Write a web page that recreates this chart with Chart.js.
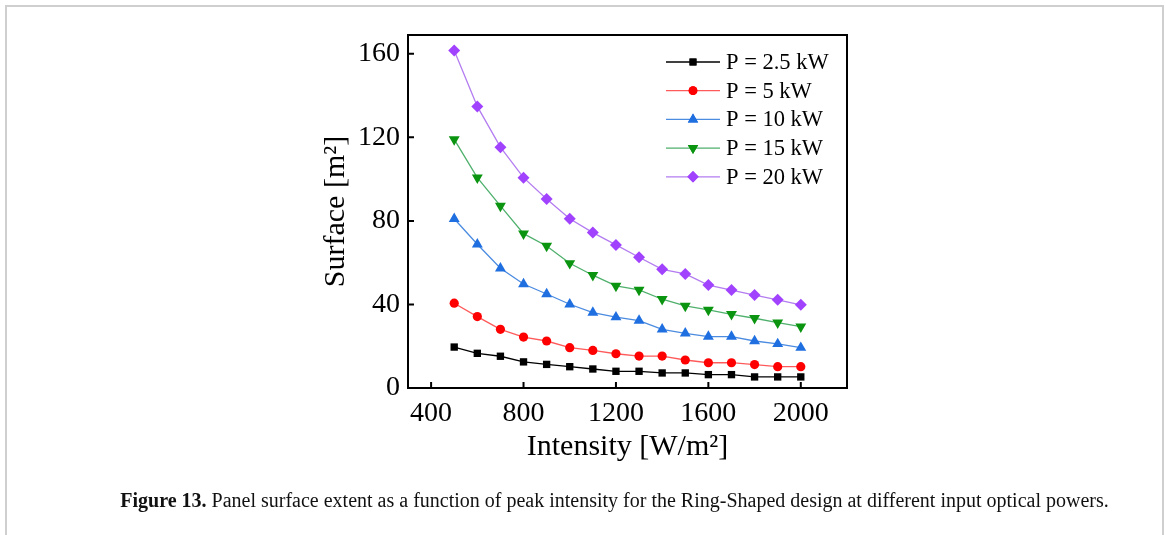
<!DOCTYPE html>
<html>
<head>
<meta charset="utf-8">
<script src="https://cdn.jsdelivr.net/npm/chart.js@4"></script>
<style>
  html, body { margin: 0; padding: 0; background: #fff; }
  #wrap { position: relative; width: 1165px; height: 535px; overflow: hidden; }
  #frame { position: absolute; left: 5px; top: 5px; width: 1155px; height: 540px;
           border-left: 2px solid #cfcfcf; border-top: 2px solid #cfcfcf; border-right: 2px solid #cfcfcf; }
  #myChart { position: absolute; left: 0; top: 0; }
  #caption { position: absolute; left: 32px; width: 1165px; top: 489px; text-align: center;
             font-family: "Liberation Serif", serif; font-size: 20px; color: #111; }
</style>
</head>
<body>
<div id="wrap">
  <div id="frame"></div>
  <canvas id="myChart" width="1165" height="535"></canvas>
  <div id="caption"><b>Figure 13.</b> Panel surface extent as a function of peak intensity for the Ring-Shaped design at different input optical powers.</div>
</div>
<script>
/* intensity values and panel surface per optical power */
var intensity = [500, 600, 700, 800, 900, 1000, 1100, 1200, 1300, 1400, 1500, 1600, 1700, 1800, 1900, 2000];
var p25 = [19.6, 16.6, 15.2, 12.5, 11.3, 10.2, 9.1, 8.0, 8.0, 7.2, 7.2, 6.4, 6.4, 5.3, 5.3, 5.3];
var p5  = [40.6, 34.2, 28.1, 24.4, 22.5, 19.3, 18.0, 16.4, 15.3, 15.3, 13.4, 12.1, 12.1, 11.2, 10.2, 10.2];
var p10 = [81.0, 68.8, 57.3, 49.8, 45.0, 40.1, 36.1, 33.9, 32.3, 28.1, 26.2, 24.6, 24.6, 22.5, 21.1, 19.3];
var p15 = [119.0, 100.7, 87.2, 73.9, 68.0, 59.7, 54.0, 48.9, 47.0, 42.5, 39.3, 37.4, 35.3, 33.4, 31.3, 29.4];
var p20 = [161.6, 134.8, 115.3, 100.7, 90.5, 81.0, 74.4, 68.5, 62.6, 56.8, 54.6, 49.3, 46.9, 44.5, 42.2, 39.8];
var seriesLabels = ["P = 2.5 kW", "P = 5 kW", "P = 10 kW", "P = 15 kW", "P = 20 kW"];
var xTicks = [400, 800, 1200, 1600, 2000];
var yTicks = [0, 40, 80, 120, 160];

function pts(arr) {
  return arr.map(function (v, i) { return { x: intensity[i], y: v }; });
}

var serif = "'Liberation Serif', 'Times New Roman', serif";

// box around the plot with inward ticks
var framePlugin = {
  id: 'frame',
  afterDraw: function (chart) {
    var ctx = chart.ctx, a = chart.chartArea;
    var xs = chart.scales.x, ys = chart.scales.y;
    ctx.save();
    ctx.strokeStyle = '#000';
    ctx.lineWidth = 2;
    ctx.strokeRect(a.left, a.top, a.right - a.left, a.bottom - a.top);
    ctx.beginPath();
    xTicks.forEach(function (v) {
      var px = xs.getPixelForValue(v);
      ctx.moveTo(px, a.bottom); ctx.lineTo(px, a.bottom - 6);
    });
    yTicks.forEach(function (v) {
      var py = ys.getPixelForValue(v);
      ctx.moveTo(a.left, py); ctx.lineTo(a.left + 6, py);
    });
    ctx.stroke();
    ctx.restore();
  }
};

var ctx = document.getElementById('myChart').getContext('2d');
var chart = new Chart(ctx, {
  type: 'line',
  data: {
    datasets: [
      { label: seriesLabels[0], data: pts(p25), borderColor: '#000000', backgroundColor: '#000000', pointStyle: 'rect', pointRadius: 5.2 },
      { label: seriesLabels[1], data: pts(p5), borderColor: '#ff5a5a', backgroundColor: '#ff0000', pointStyle: 'circle', pointRadius: 4.6 },
      { label: seriesLabels[2], data: pts(p10), borderColor: '#4b8be0', backgroundColor: '#1f6fe0', pointStyle: 'triangle', pointRadius: 6.3 },
      { label: seriesLabels[3], data: pts(p15), borderColor: '#4fb06c', backgroundColor: '#0a940f', pointStyle: 'triangle', pointRotation: 180, pointRadius: 6.3 },
      { label: seriesLabels[4], data: pts(p20), borderColor: '#b37cf0', backgroundColor: '#a142ff', pointStyle: 'rectRot', pointRadius: 6 }
    ].map(function (d) {
      d.borderWidth = 1.3;
      d.pointBorderWidth = 0;
      d.pointBorderColor = d.backgroundColor;
      d.fill = false;
      d.tension = 0;
      return d;
    })
  },
  options: {
    responsive: false,
    animation: false,
    layout: { padding: { left: 318, top: 35, right: 318, bottom: 70 } },
    plugins: {
      legend: { display: false },
      tooltip: { enabled: false }
    },
    scales: {
      x: {
        type: 'linear', min: 300, max: 2200,
        grid: { display: false },
        border: { display: false },
        afterBuildTicks: function (s) { s.ticks = xTicks.map(function (v) { return { value: v }; }); },
        afterFit: function (s) { s.height = 77; },
        ticks: { font: { family: serif, size: 28 }, color: '#000', padding: 1, maxRotation: 0,
                 callback: function (v) { return String(v); } },
        title: { display: true, text: 'Intensity [W/m²]', font: { family: serif, size: 30 }, color: '#000', padding: 0 }
      },
      y: {
        min: 0, max: 169,
        grid: { display: false },
        border: { display: false },
        afterBuildTicks: function (s) { s.ticks = yTicks.map(function (v) { return { value: v }; }); },
        afterFit: function (s) { s.width = 90; },
        ticks: { font: { family: serif, size: 28 }, color: '#000', padding: 0,
                 callback: function (v) { return String(v); } },
        title: { display: true, text: 'Surface [m²]', font: { family: serif, size: 30 }, color: '#000', padding: 0 }
      }
    }
  },
  plugins: [framePlugin, {
    // legend drawn inside the plot, top right
    id: 'innerLegend',
    afterDraw: function (chart) {
      var c = chart.ctx;
      c.save();
      chart.data.datasets.forEach(function (d, i) {
        var y = 62 + i * 28.7;
        c.strokeStyle = d.borderColor;
        c.lineWidth = 1.3;
        c.beginPath(); c.moveTo(666, y); c.lineTo(720, y); c.stroke();
        c.fillStyle = d.backgroundColor;
        Chart.helpers.drawPoint(c, {
          pointStyle: d.pointStyle, rotation: d.pointRotation || 0,
          radius: d.pointRadius * 0.95, borderWidth: 0
        }, 693, y);
        c.fill();
        c.fillStyle = '#000';
        c.font = '22.5px ' + serif;
        c.textBaseline = 'middle';
        c.fillText(d.label, 726, y + 1);
      });
      c.restore();
    }
  }]
});
</script>
</body>
</html>
